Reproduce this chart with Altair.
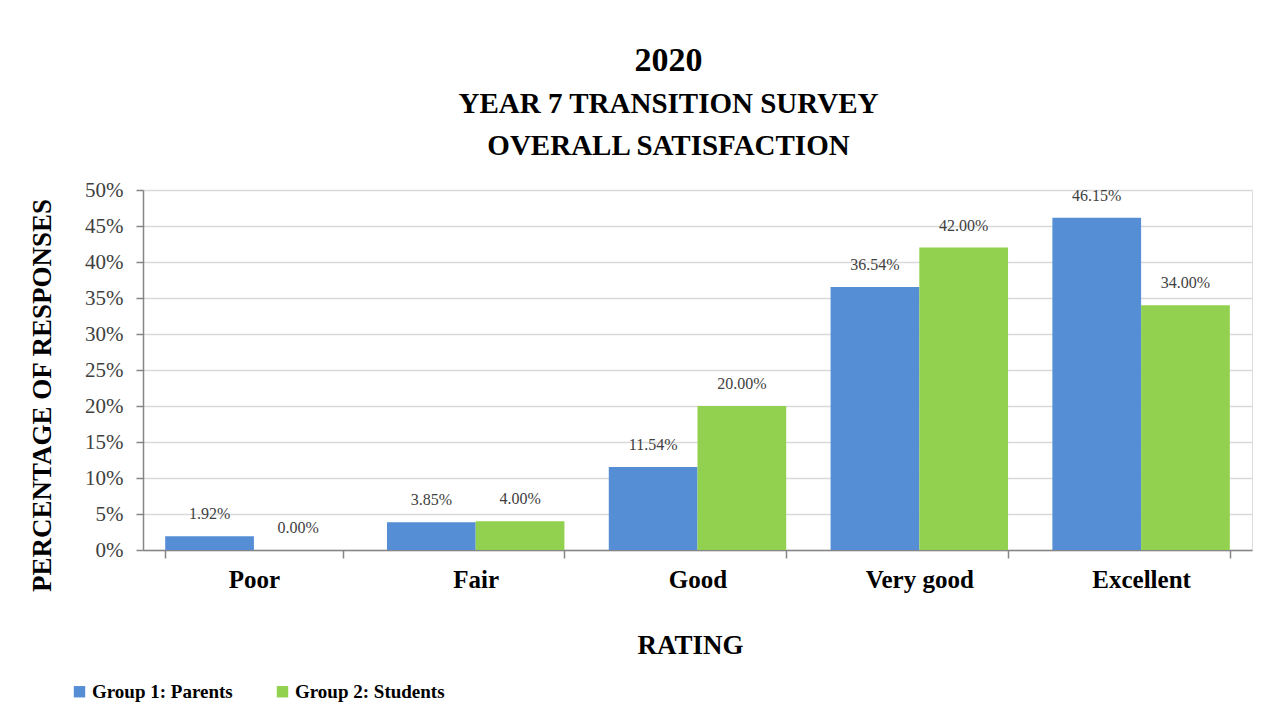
import altair as alt
import pandas as pd

ratings = ["Poor", "Fair", "Good", "Very good", "Excellent"]
groups = ["Group 1: Parents", "Group 2: Students"]
parents = [1.92, 3.85, 11.54, 36.54, 46.15]
students = [0.00, 4.00, 20.00, 42.00, 34.00]
colors = ["#558ED5", "#92D050"]
y_ticks = [0, 0.05, 0.10, 0.15, 0.20, 0.25, 0.30, 0.35, 0.40, 0.45, 0.50]

rows = []
for r, p, s in zip(ratings, parents, students):
    rows.append({"rating": r, "group": groups[0], "pct": p / 100})
    rows.append({"rating": r, "group": groups[1], "pct": s / 100})
df = pd.DataFrame(rows)

FONT = "Liberation Serif"

x = alt.X(
    "rating:N", sort=ratings,
    scale=alt.Scale(paddingInner=0.2, paddingOuter=0.1),
    axis=alt.Axis(
        title="RATING", titleFont=FONT, titleFontSize=27, titleFontWeight="bold",
        titleColor="black", titleX=547, titleY=95, titleBaseline="middle",
        labelFont=FONT, labelFontSize=25, labelFontWeight="bold", labelColor="black",
        labelAngle=0, labelPadding=9, tickBand="extent", tickSize=8,
        tickColor="#868686", tickWidth=1.5, domainColor="#868686", domainWidth=1.5,
        grid=False,
    ),
)
y = alt.Y(
    "pct:Q",
    scale=alt.Scale(domain=[0, 0.5], nice=False),
    axis=alt.Axis(
        values=y_ticks, format=".0%",
        title="PERCENTAGE OF RESPONSES", titleFont=FONT, titleFontSize=27,
        titleFontWeight="bold", titleColor="black", titleAngle=270,
        titleX=-101, titleY=205, titleAlign="center", titleBaseline="middle",
        labelFont=FONT, labelFontSize=21, labelColor="#404040", labelPadding=13,
        tickSize=7, tickColor="#868686", tickWidth=1.5,
        domainColor="#868686", domainWidth=1.5,
        grid=True, gridColor="#d9d9d9", gridWidth=1.5,
    ),
)
xo = alt.XOffset("group:N", sort=groups)

bars = alt.Chart(df).mark_bar().encode(
    x=x, xOffset=xo, y=y,
    color=alt.Color(
        "group:N", sort=groups,
        scale=alt.Scale(domain=groups, range=colors),
        legend=alt.Legend(
            title=None, orient="none", legendX=-73, legendY=492,
            direction="horizontal", labelFont=FONT, labelFontSize=19,
            labelFontWeight="bold", labelColor="black", symbolType="square",
            symbolSize=130, symbolStrokeWidth=0, columnPadding=40,
            labelOffset=3, labelLimit=300,
        ),
    ),
)

labels = alt.Chart(df).mark_text(
    baseline="bottom", dy=-14, font=FONT, fontSize=16, color="#404040"
).encode(
    x=x, xOffset=xo, y=y,
    text=alt.Text("pct:Q", format=".2%"),
)

chart = alt.layer(bars, labels).properties(
    width=1109, height=360,
    title=alt.TitleParams(
        text="2020",
        subtitle=["YEAR 7 TRANSITION SURVEY", "OVERALL SATISFACTION"],
        font=FONT, fontSize=34, fontWeight="bold", color="black",
        subtitleFont=FONT, subtitleFontSize=29, subtitleFontWeight="bold",
        subtitleColor="black", subtitleLineHeight=42, subtitlePadding=12,
        anchor="middle", dx=-29, offset=18,
    ),
    autosize=alt.AutoSizeParams(type="none"),
    padding={"left": 135, "top": 182, "right": 14, "bottom": 166},
).configure_view(stroke=None).configure(background="white")

chart.save("out.html", embed_options={"renderer": "svg", "actions": False})
